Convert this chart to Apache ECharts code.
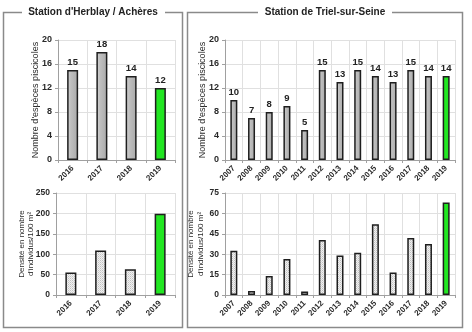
<!DOCTYPE html>
<html>
<head>
<meta charset="utf-8">
<script src="https://cdn.jsdelivr.net/npm/echarts@6/dist/echarts.min.js"></script>
<style>
  html, body { margin: 0; padding: 0; background: #fff; }
  #chart { width: 472px; height: 332px; }
</style>
</head>
<body>
<div id="chart"></div>
<script>
// Fish survey results for two Seine stations
const yearsHerblay = ['2016', '2017', '2018', '2019'];
const speciesHerblay = [15, 18, 14, 12];
const densityHerblay = [55, 109, 63, 199];

const yearsTriel = ['2007', '2008', '2009', '2010', '2011', '2012', '2013',
                    '2014', '2015', '2016', '2017', '2018', '2019'];
const speciesTriel = [10, 7, 8, 9, 5, 15, 13, 15, 14, 13, 15, 14, 14];
const densityTriel = [32.5, 3, 14, 26.5, 2.5, 40.5, 29, 31, 52, 16.5, 42, 37.5, 68];

const titleHerblay = "Station d'Herblay / Achères";
const titleTriel = 'Station de Triel-sur-Seine';
const nameSpecies = "Nombre d'espèces piscicoles";
const nameDensity = "Densité en nombre\nd'individus/100 m²";

const FONT = '"Liberation Sans", Arial, sans-serif';
const GREEN = '#22e622';
const EDGE = '#1e1e1e';

// fine stippled fill for the density bars
function stipple() {
  const c = document.createElement('canvas');
  c.width = 2; c.height = 2;
  const g = c.getContext('2d');
  g.fillStyle = '#f0f0f0';
  g.fillRect(0, 0, 2, 2);
  g.fillStyle = '#c2c2c2';
  g.fillRect(0, 0, 1, 1);
  g.fillStyle = '#d8d8d8';
  g.fillRect(1, 1, 1, 1);
  return c;
}
const dotted = { image: stipple(), repeat: 'repeat' };

const grayBar = {
  type: 'linear', x: 0, y: 0, x2: 1, y2: 0,
  colorStops: [
    { offset: 0, color: '#d4d4d4' },
    { offset: 0.35, color: '#bebebe' },
    { offset: 1, color: '#a9a9a9' }
  ]
};

function colored(values, base) {
  return values.map((v, i) => ({
    value: v,
    itemStyle: { color: i === values.length - 1 ? GREEN : base }
  }));
}

const tickText = { color: '#2a2a2a', fontFamily: FONT, fontWeight: 'bold' };

function xAxis(gridIndex, cats) {
  return {
    type: 'category', gridIndex, data: cats,
    axisLine: { lineStyle: { color: '#a0a0a0' } },
    axisTick: { show: true, length: 3, lineStyle: { color: '#a0a0a0' } },
    axisLabel: Object.assign({ rotate: 45, margin: 7, interval: 0, fontSize: 8 }, tickText),
    splitLine: { show: true, lineStyle: { color: '#e0e0e0' } }
  };
}

function yAxis(gridIndex, max, interval, name, gap, nameSize, labelSize) {
  return {
    type: 'value', gridIndex, min: 0, max, interval,
    name, nameLocation: 'middle', nameGap: gap, nameMoveOverlap: false,
    nameTextStyle: { color: '#2a2a2a', fontFamily: FONT, fontSize: nameSize, lineHeight: 9.5 },
    axisLine: { show: true, lineStyle: { color: '#a0a0a0' } },
    axisTick: { show: true, length: 3, lineStyle: { color: '#a0a0a0' } },
    axisLabel: Object.assign({ margin: 6, fontSize: labelSize }, tickText),
    splitLine: { show: true, lineStyle: { color: '#e0e0e0' } }
  };
}

function panel(x0, x1, gapL, gapR) {
  return {
    type: 'polyline', silent: true,
    shape: { points: [[gapL, 12.5], [x0, 12.5], [x0, 327.5], [x1, 327.5], [x1, 12.5], [gapR, 12.5]] },
    style: { stroke: '#8a8a8a', lineWidth: 1.5, fill: null }
  };
}

function title(x, text) {
  return {
    type: 'text', x, y: 12.5, silent: true,
    style: { text, fill: '#222', font: 'bold 10px ' + FONT, align: 'center', verticalAlign: 'middle' }
  };
}

const chart = echarts.init(document.getElementById('chart'), null, { renderer: 'canvas' });
chart.setOption({
  animation: false,
  backgroundColor: '#fff',
  grid: [
    { left: 58, top: 40, width: 117, height: 120 },
    { left: 56, top: 193, width: 119, height: 102 },
    { left: 225, top: 40, width: 230, height: 120 },
    { left: 225, top: 193, width: 230, height: 102 }
  ],
  xAxis: [
    xAxis(0, yearsHerblay), xAxis(1, yearsHerblay),
    xAxis(2, yearsTriel), xAxis(3, yearsTriel)
  ],
  yAxis: [
    yAxis(0, 20, 4, nameSpecies, 18, 9, 9),
    yAxis(1, 250, 50, nameDensity, 20, 8, 8.5),
    yAxis(2, 20, 4, nameSpecies, 17.5, 9, 9),
    yAxis(3, 75, 15, nameDensity, 19.5, 8, 8.5)
  ],
  series: [
    {
      type: 'bar', xAxisIndex: 0, yAxisIndex: 0, barWidth: 11,
      data: colored(speciesHerblay, grayBar),
      itemStyle: { borderColor: EDGE, borderWidth: 1.5 },
      label: { show: true, position: 'top', distance: 3, color: '#222', fontFamily: FONT, fontSize: 9.5, fontWeight: 'bold' }
    },
    {
      type: 'bar', xAxisIndex: 1, yAxisIndex: 1, barWidth: 11,
      data: colored(densityHerblay, dotted),
      itemStyle: { borderColor: EDGE, borderWidth: 1.5 }
    },
    {
      type: 'bar', xAxisIndex: 2, yAxisIndex: 2, barWidth: 7,
      data: colored(speciesTriel, grayBar),
      itemStyle: { borderColor: EDGE, borderWidth: 1.5 },
      label: { show: true, position: 'top', distance: 3, color: '#222', fontFamily: FONT, fontSize: 9.5, fontWeight: 'bold' }
    },
    {
      type: 'bar', xAxisIndex: 3, yAxisIndex: 3, barWidth: 7,
      data: colored(densityTriel, dotted),
      itemStyle: { borderColor: EDGE, borderWidth: 1.5 }
    }
  ],
  graphic: [
    panel(3.5, 182.5, 22, 165),
    panel(187.5, 462.5, 258, 392),
    title(93, titleHerblay),
    title(325, titleTriel)
  ]
});
</script>
</body>
</html>
